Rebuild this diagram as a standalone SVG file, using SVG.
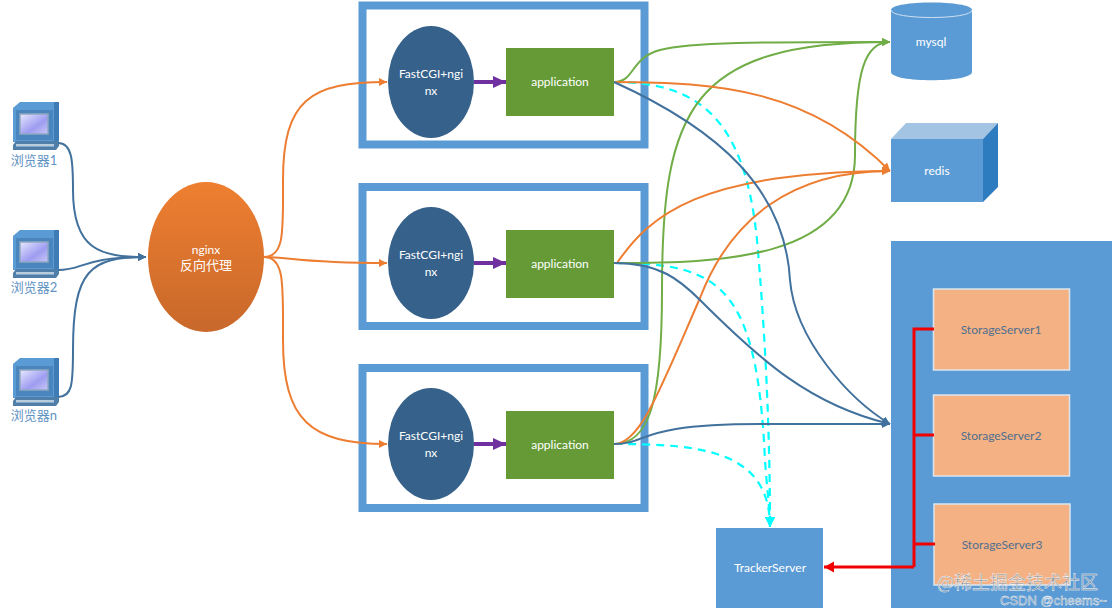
<svg xmlns="http://www.w3.org/2000/svg" width="1117" height="613" viewBox="0 0 1117 613">
<style>
text{font-family:"Lato","Noto Sans CJK SC",sans-serif;font-size:12px;text-anchor:middle;fill:#fff}
.lbl{fill:#5f93c4;font-size:13px}
.st{fill:#4f6f8f}
.frame{fill:#fff;stroke:#5b9bd5;stroke-width:8}
.cgi{fill:#35618a}
.app{fill:#659a37}
.blue{fill:#5b9bd5}
.sbox{fill:#f4b183;stroke:#dce6f0;stroke-width:1.5}
.c{fill:none;stroke-width:2}
.or{stroke:#ed7d31;marker-end:url(#mo)}
.gr{stroke:#70ad47;marker-end:url(#mg)}
.bl{stroke:#41719c;marker-end:url(#mb)}
.cy{stroke:#00ffff;stroke-dasharray:8 6;stroke-width:2.2;marker-end:url(#mc)}
.re{fill:none;stroke:#f00000;stroke-width:3}
.wm{font-family:"Noto Sans CJK SC",sans-serif;fill:#7a8a99;fill-opacity:.75;stroke:#fff;stroke-width:.4;text-anchor:start}
</style>
<defs>
<linearGradient id="ng" x1="0" y1="0" x2="0" y2="1"><stop offset="0" stop-color="#ee7f30"/><stop offset="1" stop-color="#c8682b"/></linearGradient>
<linearGradient id="sc" x1="0" y1="0" x2="1" y2="1"><stop offset="0" stop-color="#e8e8ff"/><stop offset=".6" stop-color="#9d9cf0"/><stop offset="1" stop-color="#c9c8f8"/></linearGradient>
<marker id="mo" markerUnits="userSpaceOnUse" markerWidth="10" markerHeight="10" refX="8" refY="4" orient="auto"><path d="M0,0L8,4L0,8Z" fill="#ed7d31"/></marker>
<marker id="mg" markerUnits="userSpaceOnUse" markerWidth="10" markerHeight="10" refX="8" refY="4" orient="auto"><path d="M0,0L8,4L0,8Z" fill="#70ad47"/></marker>
<marker id="mb" markerUnits="userSpaceOnUse" markerWidth="10" markerHeight="10" refX="8" refY="4" orient="auto"><path d="M0,0L8,4L0,8Z" fill="#41719c"/></marker>
<marker id="mc" markerUnits="userSpaceOnUse" markerWidth="12" markerHeight="12" refX="10" refY="5" orient="auto"><path d="M0,0L10,5L0,10Z" fill="#00ffff"/></marker>
<marker id="mr" markerUnits="userSpaceOnUse" markerWidth="12" markerHeight="12" refX="10" refY="5.5" orient="auto"><path d="M0,0L10,5.5L0,11Z" fill="#f00000"/></marker>
<marker id="mp" markerUnits="userSpaceOnUse" markerWidth="14" markerHeight="14" refX="13" refY="6" orient="auto"><path d="M0,0L13,6L0,12Z" fill="#7030a0"/></marker>
<g id="pc">
<path d="M13,108L20,102H59V142H13Z" fill="#5b9bd5"/>
<path d="M54,102H59V140L54,144Z" fill="#3f7cb5"/>
<rect x="16" y="110" width="37" height="30" fill="#4a86bd"/>
<rect x="20" y="114" width="28" height="20" fill="url(#sc)" stroke="#8fa8c0" stroke-width="1.5"/>
<path d="M13,145L16,141H59V146L56,150H13Z" fill="#4f7fa8"/>
<rect x="16" y="144" width="38" height="2.5" fill="#b7cde0"/>
</g>
</defs>

<g id="browser1"><use href="#pc"/><text class="lbl" x="34" y="165">浏览器1</text></g>
<g id="browser2"><use href="#pc" y="128"/><text class="lbl" x="34" y="292">浏览器2</text></g>
<g id="browsern"><use href="#pc" y="256"/><text class="lbl" x="34" y="420">浏览器n</text></g>

<g id="frame1"><rect class="frame" x="362.5" y="5.5" width="282" height="139"/></g>
<g id="frame2"><rect class="frame" x="362.5" y="187" width="282" height="139"/></g>
<g id="frame3"><rect class="frame" x="362.5" y="368" width="282" height="140"/></g>

<g id="connectors">
<path class="c cy" d="M614,82C700,82 745,120 757,240C765,330 770,430 770,527"/>
<path class="c cy" d="M614,263C720,263 757,285 765,460C767,490 770,510 770,527"/>
<path class="c cy" d="M614,444C700,444 770,450 770,527"/>
<path class="c bl" d="M58,143C72,143 73,160 73,190C73,250 100,257 146,257"/>
<path class="c bl" d="M58,270C85,270 80,257 146,257"/>
<path class="c bl" d="M58,397C72,397 73,385 73,350C73,270 90,257 146,257"/>
<path class="c or" d="M264,257C285,257 283,230 283,180C283,100 310,82 387,82"/>
<path class="c or" d="M264,257C290,257 300,263 387,263"/>
<path class="c or" d="M264,257C285,257 283,285 283,340C283,420 310,444 387,444"/>
<path class="c gr" d="M614,82C635,82 630,58 660,50C690,42 760,42 890,42"/>
<path class="c gr" d="M614,444C650,444 662,400 662,290C662,110 690,42 890,42"/>
<path class="c gr" d="M614,263C720,263 855,260 855,155C855,70 865,42 890,42"/>
<path class="c or" d="M614,82C720,82 810,90 890,171"/>
<path class="c or" d="M617,263C650,215 700,172 890,171"/>
<path class="c or" d="M614,444C640,444 660,390 700,298C730,220 790,171 890,171"/>
<path class="c bl" d="M614,82C720,130 785,190 790,280C795,340 850,400 890,424"/>
<path class="c bl" d="M614,263C660,263 680,280 700,300C760,360 810,405 890,424"/>
<path class="c bl" d="M614,444C650,444 635,424 760,424L890,424"/>
<path d="M474,82H506" fill="none" stroke="#7030a0" stroke-width="4" marker-end="url(#mp)"/>
<path d="M474,263H506" fill="none" stroke="#7030a0" stroke-width="4" marker-end="url(#mp)"/>
<path d="M474,444H506" fill="none" stroke="#7030a0" stroke-width="4" marker-end="url(#mp)"/>
</g>

<g id="nginx"><ellipse cx="206" cy="257" rx="58" ry="75" fill="url(#ng)"/><text x="206" y="254">nginx</text><text x="206" y="270" style="font-size:13px">反向代理</text></g>
<g id="cgi1"><ellipse class="cgi" cx="431" cy="82" rx="43" ry="56"/><text x="431" y="78">FastCGI+ngi</text><text x="431" y="95">nx</text></g>
<g id="cgi2"><ellipse class="cgi" cx="431" cy="263" rx="43" ry="56"/><text x="431" y="259">FastCGI+ngi</text><text x="431" y="276">nx</text></g>
<g id="cgi3"><ellipse class="cgi" cx="431" cy="444" rx="43" ry="56"/><text x="431" y="440">FastCGI+ngi</text><text x="431" y="457">nx</text></g>
<g id="app1"><rect class="app" x="506" y="48" width="108" height="68"/><text x="560" y="86">application</text></g>
<g id="app2"><rect class="app" x="506" y="230" width="108" height="68"/><text x="560" y="268">application</text></g>
<g id="app3"><rect class="app" x="506" y="411" width="108" height="68"/><text x="560" y="449">application</text></g>

<g id="mysql"><path class="blue" d="M891,10C891,0 972,0 972,10V72C972,83 891,83 891,72Z"/><path d="M891,10C891,20 972,20 972,10" fill="none" stroke="#cfe0f0" stroke-width="1"/><text x="931" y="46">mysql</text></g>
<g id="redis"><rect class="blue" x="891" y="139" width="92" height="63"/><path d="M891,139L906,123H998L983,139Z" fill="#a4c4e4"/><path d="M983,139L998,123V187L983,202Z" fill="#2e7cc0"/><text x="937" y="175">redis</text></g>

<g id="storage"><rect class="blue" x="891" y="241" width="221" height="367"/>
<g id="ss1"><rect class="sbox" x="933.5" y="289" width="136" height="81"/><text class="st" x="1001" y="334">StorageServer1</text></g>
<g id="ss2"><rect class="sbox" x="933.5" y="395" width="136" height="81"/><text class="st" x="1001" y="440">StorageServer2</text></g>
<g id="ss3"><rect class="sbox" x="934" y="504" width="136" height="81"/><text class="st" x="1002" y="549">StorageServer3</text></g>
</g>
<g id="tracker"><rect class="blue" x="716" y="528" width="107" height="80"/><text x="770" y="572">TrackerServer</text></g>

<g id="red-connectors">
<path class="re" d="M934,329H914V567"/>
<path class="re" d="M914,435H934"/>
<path class="re" d="M914,544H935"/>
<path class="re" d="M914,567H824" marker-end="url(#mr)"/>
</g>

<text class="wm" x="937" y="589" style="font-size:18px">@稀土掘金技术社区</text>
<text class="wm" x="1000" y="605" style="font-family:'Liberation Sans',sans-serif;font-size:13px">CSDN @cheems~</text>
</svg>
